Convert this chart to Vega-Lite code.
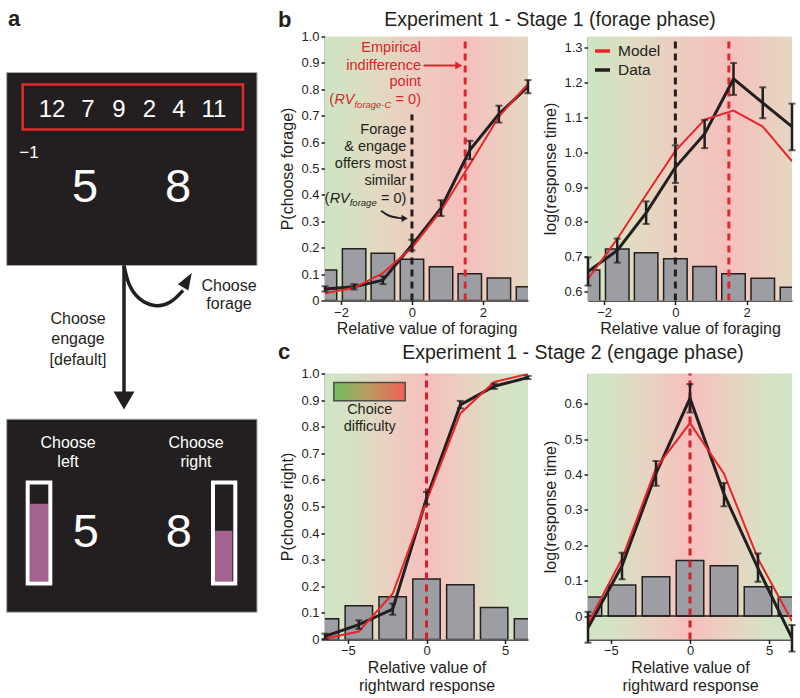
{
  "$schema": "https://vega.github.io/schema/vega-lite/v6.json",
  "padding": {"left": 0, "top": 7.5, "right": 0, "bottom": 0},
  "background": "white",
  "config": {
    "font": "Liberation Sans",
    "view": {"stroke": null},
    "axis": {"labelFont": "Liberation Sans", "labelFontSize": 13, "labelColor": "#231f20", "titleFont": "Liberation Sans", "titleFontSize": 16, "titleFontWeight": "normal", "titleColor": "#231f20", "domainColor": "#231f20", "domainWidth": 1.5, "tickColor": "#231f20", "tickWidth": 1.5, "tickSize": 4, "grid": false, "labelPadding": 2, "titleLineHeight": 18, "zindex": 1},
    "axisY": {"titlePadding": 5},
    "axisX": {"titlePadding": 1},
    "title": {"font": "Liberation Sans", "fontWeight": "normal", "color": "#231f20", "frame": "group"},
    "text": {"font": "Liberation Sans"}
  },
  "resolve": {"scale": {"color": "independent"}, "legend": {"color": "independent"}},
  "columns": 3,
  "spacing": {"row": 73, "column": 60},
  "bounds": "flush",
  "align": "each",
  "datasets": {
    "bLD": [{"x": -2.45, "y": 0.044}, {"x": -1.63, "y": 0.052}, {"x": -0.82, "y": 0.077}, {"x": 0, "y": 0.21}, {"x": 0.82, "y": 0.35}, {"x": 1.63, "y": 0.57}, {"x": 2.45, "y": 0.706}, {"x": 3.27, "y": 0.81}],
    "bLE": [{"x": -2.45, "y": 0.034, "y2": 0.054}, {"x": -1.63, "y": 0.042, "y2": 0.062}, {"x": -0.82, "y": 0.062, "y2": 0.092}, {"x": 0, "y": 0.19, "y2": 0.23}, {"x": 0.82, "y": 0.32, "y2": 0.38}, {"x": 1.63, "y": 0.535, "y2": 0.605}, {"x": 2.45, "y": 0.674, "y2": 0.738}, {"x": 3.27, "y": 0.785, "y2": 0.835}],
    "bLM": [{"x": -2.45, "y": 0.027}, {"x": -1.63, "y": 0.048}, {"x": -0.82, "y": 0.104}, {"x": 0, "y": 0.2}, {"x": 0.82, "y": 0.34}, {"x": 1.63, "y": 0.515}, {"x": 2.45, "y": 0.697}, {"x": 3.27, "y": 0.82}],
    "bLbars": [
      {"x": -2.78, "x2": -2.12, "y": 0.116}, {"x": -1.96, "x2": -1.3, "y": 0.196}, {"x": -1.15, "x2": -0.49, "y": 0.179}, {"x": -0.33, "x2": 0.33, "y": 0.156},
      {"x": 0.49, "x2": 1.15, "y": 0.128}, {"x": 1.3, "x2": 1.96, "y": 0.101}, {"x": 2.12, "x2": 2.78, "y": 0.085}, {"x": 2.94, "x2": 3.6, "y": 0.052}
    ],
    "bRD": [{"x": -2.45, "y": 0.657}, {"x": -1.63, "y": 0.718}, {"x": -0.82, "y": 0.826}, {"x": 0, "y": 0.957}, {"x": 0.82, "y": 1.053}, {"x": 1.63, "y": 1.211}, {"x": 2.45, "y": 1.142}, {"x": 3.27, "y": 1.074}],
    "bRE": [{"x": -2.45, "y": 0.617, "y2": 0.698}, {"x": -1.63, "y": 0.683, "y2": 0.752}, {"x": -0.82, "y": 0.794, "y2": 0.859}, {"x": 0, "y": 0.912, "y2": 1.02}, {"x": 0.82, "y": 1.012, "y2": 1.093}, {"x": 1.63, "y": 1.165, "y2": 1.257}, {"x": 2.45, "y": 1.098, "y2": 1.187}, {"x": 3.27, "y": 1.006, "y2": 1.14}],
    "bRM": [{"x": -2.45, "y": 0.636}, {"x": -1.63, "y": 0.751}, {"x": -0.82, "y": 0.878}, {"x": 0, "y": 1.004}, {"x": 0.82, "y": 1.094}, {"x": 1.63, "y": 1.12}, {"x": 2.45, "y": 1.074}, {"x": 3.27, "y": 0.974}],
    "bRbars": [
      {"x": -2.78, "x2": -2.12, "y": 0.662}, {"x": -1.96, "x2": -1.3, "y": 0.722}, {"x": -1.15, "x2": -0.49, "y": 0.711}, {"x": -0.33, "x2": 0.33, "y": 0.694},
      {"x": 0.49, "x2": 1.15, "y": 0.672}, {"x": 1.3, "x2": 1.96, "y": 0.651}, {"x": 2.12, "x2": 2.78, "y": 0.638}, {"x": 2.94, "x2": 3.6, "y": 0.612}
    ],
    "cLD": [{"x": -6.45, "y": 0.012}, {"x": -4.3, "y": 0.056}, {"x": -2.15, "y": 0.114}, {"x": 0, "y": 0.53}, {"x": 2.15, "y": 0.882}, {"x": 4.3, "y": 0.952}, {"x": 6.45, "y": 0.985}],
    "cLE": [{"x": -6.45, "y": 0.002, "y2": 0.022}, {"x": -4.3, "y": 0.04, "y2": 0.072}, {"x": -2.15, "y": 0.093, "y2": 0.135}, {"x": 0, "y": 0.508, "y2": 0.555}, {"x": 2.15, "y": 0.869, "y2": 0.897}, {"x": 4.3, "y": 0.942, "y2": 0.962}, {"x": 6.45, "y": 0.979, "y2": 0.991}],
    "cLM": [{"x": -6.45, "y": 0.004}, {"x": -4.3, "y": 0.03}, {"x": -2.15, "y": 0.172}, {"x": 0, "y": 0.52}, {"x": 2.15, "y": 0.85}, {"x": 4.3, "y": 0.968}, {"x": 6.45, "y": 0.998}],
    "cLbars": [
      {"x": -7.32, "x2": -5.58, "y": 0.078}, {"x": -5.17, "x2": -3.43, "y": 0.127}, {"x": -3.02, "x2": -1.28, "y": 0.161}, {"x": -0.87, "x2": 0.87, "y": 0.227},
      {"x": 1.28, "x2": 3.02, "y": 0.206}, {"x": 3.43, "x2": 5.17, "y": 0.12}, {"x": 5.58, "x2": 7.32, "y": 0.078}
    ],
    "cRD": [{"x": -6.45, "y": -0.033}, {"x": -4.3, "y": 0.142}, {"x": -2.15, "y": 0.403}, {"x": 0, "y": 0.615}, {"x": 2.15, "y": 0.345}, {"x": 4.3, "y": 0.135}, {"x": 6.45, "y": -0.062}],
    "cRE": [{"x": -6.45, "y": -0.075, "y2": 0.012}, {"x": -4.3, "y": 0.104, "y2": 0.179}, {"x": -2.15, "y": 0.368, "y2": 0.438}, {"x": 0, "y": 0.575, "y2": 0.655}, {"x": 2.15, "y": 0.31, "y2": 0.376}, {"x": 4.3, "y": 0.097, "y2": 0.177}, {"x": 6.45, "y": -0.1, "y2": -0.025}],
    "cRM": [{"x": -6.45, "y": -0.02}, {"x": -4.3, "y": 0.162}, {"x": -2.15, "y": 0.418}, {"x": 0, "y": 0.545}, {"x": 2.15, "y": 0.402}, {"x": 4.3, "y": 0.162}, {"x": 6.45, "y": -0.014}],
    "cRbars": [
      {"x": -7.32, "x2": -5.58, "y": 0.054}, {"x": -5.17, "x2": -3.43, "y": 0.088}, {"x": -3.02, "x2": -1.28, "y": 0.111}, {"x": -0.87, "x2": 0.87, "y": 0.157},
      {"x": 1.28, "x2": 3.02, "y": 0.142}, {"x": 3.43, "x2": 5.17, "y": 0.083}, {"x": 5.58, "x2": 7.32, "y": 0.054}
    ]
  },
  "concat": [
    {
      "width": 265, "height": 264,
      "title": {"text": "a", "anchor": "start", "fontSize": 22, "fontWeight": "bold", "dx": 8, "dy": -1.5},
      "encoding": {
        "x": {"field": "x", "type": "quantitative", "scale": {"domain": [0, 265], "nice": false, "zero": false}, "axis": null},
        "y": {"field": "y", "type": "quantitative", "scale": {"domain": [35, 299], "nice": false, "zero": false, "reverse": true}, "axis": null}
      },
      "layer": [
        {"data": {"values": [{"x": 6.7, "x2": 257, "y": 71, "y2": 264}]}, "mark": {"type": "rect", "fill": "#231f20", "stroke": "#a9a9a9", "strokeWidth": 1}, "encoding": {"x2": {"field": "x2"}, "y2": {"field": "y2"}}},
        {"data": {"values": [{"x": 22.7, "x2": 243, "y": 83, "y2": 128}]}, "mark": {"type": "rect", "filled": false, "color": "#e8282b", "strokeWidth": 2.5}, "encoding": {"x2": {"field": "x2"}, "y2": {"field": "y2"}}},
        {"data": {"values": [{"x": 52, "y": 108, "t": "12"}, {"x": 88, "y": 108, "t": "7"}, {"x": 119, "y": 108, "t": "9"}, {"x": 149.5, "y": 108, "t": "2"}, {"x": 179, "y": 108, "t": "4"}, {"x": 214, "y": 108, "t": "11"}]}, "mark": {"type": "text", "color": "white", "fontSize": 24, "baseline": "middle", "align": "center"}, "encoding": {"text": {"field": "t"}}},
        {"data": {"values": [{"x": 29, "y": 151, "t": "−1"}]}, "mark": {"type": "text", "color": "white", "fontSize": 17, "baseline": "middle", "align": "center"}, "encoding": {"text": {"field": "t"}}},
        {"data": {"values": [{"x": 85, "y": 186, "t": "5"}, {"x": 178, "y": 186, "t": "8"}]}, "mark": {"type": "text", "color": "white", "fontSize": 47, "baseline": "middle", "align": "center"}, "encoding": {"text": {"field": "t"}}},
        {"data": {"values": [{"x": 124, "y": 264, "y2": 394}]}, "mark": {"type": "rule", "color": "#231f20", "strokeWidth": 3.5}, "encoding": {"y2": {"field": "y2"}}},
        {"data": {"values": [{"x": 124, "y": 264}, {"x": 128, "y": 283}, {"x": 138, "y": 298}, {"x": 155, "y": 306}, {"x": 171, "y": 302}, {"x": 183, "y": 289}]}, "mark": {"type": "line", "color": "#231f20", "strokeWidth": 3.5, "interpolate": "basis"}, "encoding": {}},
        {"data": {"values": [{"x": 186, "y": 281}]}, "mark": {"type": "point", "shape": "M0.515,-0.857L0.213,0.712L-0.729,0.146Z", "filled": true, "size": 500, "color": "#231f20", "opacity": 1}, "encoding": {}},
        {"data": {"values": [{"x": 229, "y": 284, "t": "Choose"}, {"x": 229, "y": 302, "t": "forage"}, {"x": 78, "y": 317, "t": "Choose"}, {"x": 78, "y": 337, "t": "engage"}, {"x": 78, "y": 358, "t": "[default]"}]}, "mark": {"type": "text", "color": "#231f20", "fontSize": 16, "baseline": "middle", "align": "center"}, "encoding": {"text": {"field": "t"}}}
      ]
    },
    {
      "width": 203, "height": 264,
      "title": {"text": "b", "anchor": "start", "fontSize": 22, "fontWeight": "bold", "dx": -47, "dy": 5},
      "encoding": {
        "x": {"field": "x", "type": "quantitative", "scale": {"domain": [-2.45, 3.27], "nice": false, "zero": false}, "axis": {"title": "Relative value of foraging", "values": [-2, 0, 2]}},
        "y": {"field": "y", "type": "quantitative", "scale": {"domain": [0, 1], "nice": false, "zero": false}, "axis": {"title": "P(choose forage)", "values": [0, 0.1, 0.2, 0.3, 0.4, 0.5, 0.6, 0.7, 0.8, 0.9, 1], "labelExpr": "datum.value == 0 ? '0' : format(datum.value, '.1f')"}}
      },
      "layer": [
        {"data": {"values": [{"x": -2.45, "x2": 3.27, "y": 0, "y2": 1}]}, "mark": {"type": "rect", "fill": {"gradient": "linear", "x1": 0, "y1": 0, "x2": 1, "y2": 0, "stops": [{"offset": 0, "color": "#cde5c3"}, {"offset": 0.22, "color": "#dfdcc1"}, {"offset": 0.42, "color": "#ebcebf"}, {"offset": 0.69, "color": "#f5c0bc"}, {"offset": 1, "color": "#e5d7c1"}]}}, "encoding": {"x2": {"field": "x2"}, "y2": {"field": "y2"}}},
        {"data": {"name": "bLbars"}, "mark": {"type": "rect", "clip": true, "fill": "#9c9ea3", "stroke": "#231f20", "strokeWidth": 1.5}, "encoding": {"x2": {"field": "x2"}, "y2": {"datum": 0}}},
        {"data": {"values": [{"x": 0, "y": 0, "y2": 0.705}]}, "mark": {"type": "rule", "color": "#231f20", "strokeWidth": 3, "strokeDash": [7, 5]}, "encoding": {"y2": {"field": "y2"}}},
        {"data": {"values": [{"x": 1.5, "y": 0, "y2": 1}]}, "mark": {"type": "rule", "color": "#e2262f", "strokeWidth": 3, "strokeDash": [7, 5]}, "encoding": {"y2": {"field": "y2"}}},
        {"data": {"name": "bLD"}, "mark": {"type": "line", "color": "#231f20", "strokeWidth": 3, "clip": true}, "encoding": {}},
        {"data": {"name": "bLM"}, "mark": {"type": "line", "color": "#e8252b", "strokeWidth": 2, "clip": true}, "encoding": {}},
        {"data": {"name": "bLE"}, "mark": {"type": "errorbar", "ticks": {"size": 7, "thickness": 2, "color": "#231f20"}, "rule": {"strokeWidth": 2.5, "color": "#231f20"}}, "encoding": {"y2": {"field": "y2"}}},
        {"data": {"values": [{"x": 0.255, "y": 0.956, "t": "Empirical"}, {"x": 0.255, "y": 0.89, "t": "indifference"}, {"x": 0.255, "y": 0.826, "t": "point"}, {"x": -2.193, "y": 0.758, "t": "("}, {"x": 0.255, "y": 0.758, "t": "= 0)"}]}, "mark": {"type": "text", "align": "right", "baseline": "middle", "fontSize": 14.5, "color": "#d9262e"}, "encoding": {"text": {"field": "t"}}},
        {"data": {"values": [{"x": -1.623, "y": 0.758, "t": "RV"}]}, "mark": {"type": "text", "align": "right", "baseline": "middle", "fontSize": 14.5, "fontStyle": "italic", "color": "#d9262e"}, "encoding": {"text": {"field": "t"}}},
        {"data": {"values": [{"x": -0.578, "y": 0.742, "t": "forage-C"}]}, "mark": {"type": "text", "align": "right", "baseline": "middle", "fontSize": 9.5, "fontStyle": "italic", "color": "#d9262e"}, "encoding": {"text": {"field": "t"}}},
        {"data": {"values": [{"x": 0.33, "y": 0.89}, {"x": 1.25, "y": 0.89}]}, "mark": {"type": "line", "color": "#d9262e", "strokeWidth": 2}, "encoding": {}},
        {"data": {"values": [{"x": 1.317, "y": 0.89}]}, "mark": {"type": "point", "shape": "triangle-right", "filled": true, "size": 64, "color": "#d9262e", "opacity": 1}, "encoding": {}},
        {"data": {"values": [{"x": -0.16, "y": 0.647, "t": "Forage"}, {"x": -0.16, "y": 0.581, "t": "& engage"}, {"x": -0.16, "y": 0.516, "t": "offers most"}, {"x": -0.16, "y": 0.451, "t": "similar"}, {"x": -2.326, "y": 0.385, "t": "("}, {"x": -0.16, "y": 0.385, "t": "= 0)"}]}, "mark": {"type": "text", "align": "right", "baseline": "middle", "fontSize": 14.5, "color": "#231f20"}, "encoding": {"text": {"field": "t"}}},
        {"data": {"values": [{"x": -1.756, "y": 0.385, "t": "RV"}]}, "mark": {"type": "text", "align": "right", "baseline": "middle", "fontSize": 14.5, "fontStyle": "italic", "color": "#231f20"}, "encoding": {"text": {"field": "t"}}},
        {"data": {"values": [{"x": -0.994, "y": 0.37, "t": "forage"}]}, "mark": {"type": "text", "align": "right", "baseline": "middle", "fontSize": 9.5, "fontStyle": "italic", "color": "#231f20"}, "encoding": {"text": {"field": "t"}}},
        {"data": {"values": [{"x": -0.87, "y": 0.34}, {"x": -0.66, "y": 0.322}, {"x": -0.4, "y": 0.313}, {"x": -0.22, "y": 0.311}]}, "mark": {"type": "line", "color": "#231f20", "strokeWidth": 2, "interpolate": "monotone"}, "encoding": {}},
        {"data": {"values": [{"x": -0.206, "y": 0.311}]}, "mark": {"type": "point", "shape": "triangle-right", "filled": true, "size": 50, "color": "#231f20", "opacity": 1}, "encoding": {}}
      ]
    },
    {
      "width": 204, "height": 264,
      "title": {"text": "Experiment 1 - Stage 1 (forage phase)", "anchor": "middle", "fontSize": 19.5, "dx": -140, "dy": -1},
      "encoding": {
        "x": {"field": "x", "type": "quantitative", "scale": {"domain": [-2.45, 3.27], "nice": false, "zero": false}, "axis": {"title": "Relative value of foraging", "values": [-2, 0, 2]}},
        "y": {"field": "y", "type": "quantitative", "scale": {"domain": [0.574, 1.333], "nice": false, "zero": false}, "axis": {"title": "log(response time)", "values": [0.6, 0.7, 0.8, 0.9, 1.0, 1.1, 1.2, 1.3], "labelExpr": "format(datum.value, '.1f')"}}
      },
      "layer": [
        {"data": {"values": [{"x": -2.45, "x2": 3.27, "y": 0.574, "y2": 1.333}]}, "mark": {"type": "rect", "fill": {"gradient": "linear", "x1": 0, "y1": 0, "x2": 1, "y2": 0, "stops": [{"offset": 0, "color": "#cde5c3"}, {"offset": 0.22, "color": "#dfdcc1"}, {"offset": 0.42, "color": "#ebcebf"}, {"offset": 0.69, "color": "#f5c0bc"}, {"offset": 1, "color": "#e5d7c1"}]}}, "encoding": {"x2": {"field": "x2"}, "y2": {"field": "y2"}}},
        {"data": {"name": "bRbars"}, "mark": {"type": "rect", "clip": true, "fill": "#9c9ea3", "stroke": "#231f20", "strokeWidth": 1.5}, "encoding": {"x2": {"field": "x2"}, "y2": {"datum": 0.5}}},
        {"data": {"values": [{"x": 0, "y": 0.574, "y2": 1.333}]}, "mark": {"type": "rule", "color": "#231f20", "strokeWidth": 3, "strokeDash": [7, 5]}, "encoding": {"y2": {"field": "y2"}}},
        {"data": {"values": [{"x": 1.5, "y": 0.574, "y2": 1.333}]}, "mark": {"type": "rule", "color": "#e2262f", "strokeWidth": 3, "strokeDash": [7, 5]}, "encoding": {"y2": {"field": "y2"}}},
        {"data": {"name": "bRD"}, "mark": {"type": "line", "strokeWidth": 3, "clip": true}, "encoding": {"color": {"datum": "Data", "scale": {"domain": ["Model", "Data"], "range": ["#e8252b", "#231f20"]}, "legend": {"orient": "top-left", "title": null, "symbolType": "stroke", "symbolStrokeWidth": 3.5, "symbolSize": 225, "labelFontSize": 15.5, "labelColor": "#231f20", "labelFont": "Liberation Sans", "offset": 3, "rowPadding": 1, "labelOffset": 6, "padding": 2}}}},
        {"data": {"name": "bRM"}, "mark": {"type": "line", "strokeWidth": 2, "clip": true}, "encoding": {"color": {"datum": "Model"}}},
        {"data": {"name": "bRE"}, "mark": {"type": "errorbar", "ticks": {"size": 7, "thickness": 2, "color": "#231f20"}, "rule": {"strokeWidth": 2.5, "color": "#231f20"}}, "encoding": {"y2": {"field": "y2"}}}
      ]
    },
    {
      "width": 265, "height": 266,
      "encoding": {
        "x": {"field": "x", "type": "quantitative", "scale": {"domain": [0, 265], "nice": false, "zero": false}, "axis": null},
        "y": {"field": "y", "type": "quantitative", "scale": {"domain": [372, 638], "nice": false, "zero": false, "reverse": true}, "axis": null}
      },
      "layer": [
        {"data": {"values": [{"x": 6.7, "x2": 257, "y": 417.7, "y2": 610.7}]}, "mark": {"type": "rect", "fill": "#231f20", "stroke": "#a9a9a9", "strokeWidth": 1}, "encoding": {"x2": {"field": "x2"}, "y2": {"field": "y2"}}},
        {"data": {"values": [{"x": 68, "y": 441, "t": "Choose"}, {"x": 68, "y": 460, "t": "left"}, {"x": 196, "y": 441, "t": "Choose"}, {"x": 196, "y": 460, "t": "right"}]}, "mark": {"type": "text", "color": "white", "fontSize": 16, "baseline": "middle", "align": "center"}, "encoding": {"text": {"field": "t"}}},
        {"data": {"values": [{"x": 30, "x2": 48.3, "y": 502.3, "y2": 580}, {"x": 215, "x2": 232.3, "y": 529.3, "y2": 580}]}, "mark": {"type": "rect", "fill": "#a3628f"}, "encoding": {"x2": {"field": "x2"}, "y2": {"field": "y2"}}},
        {"data": {"values": [{"x": 27.7, "x2": 50.3, "y": 481, "y2": 582}, {"x": 213, "x2": 235.3, "y": 481, "y2": 582}]}, "mark": {"type": "rect", "filled": false, "color": "white", "strokeWidth": 4}, "encoding": {"x2": {"field": "x2"}, "y2": {"field": "y2"}}},
        {"data": {"values": [{"x": 85.8, "y": 531.7, "t": "5"}, {"x": 178.7, "y": 531.7, "t": "8"}]}, "mark": {"type": "text", "color": "white", "fontSize": 47, "baseline": "middle", "align": "center"}, "encoding": {"text": {"field": "t"}}},
        {"data": {"values": [{"x": 124, "y": 399}]}, "mark": {"type": "point", "shape": "triangle-down", "filled": true, "size": 441, "color": "#231f20", "opacity": 1}, "encoding": {}}
      ]
    },
    {
      "width": 203, "height": 266,
      "title": {"text": "c", "anchor": "start", "fontSize": 22, "fontWeight": "bold", "dx": -47, "dy": 0},
      "encoding": {
        "x": {"field": "x", "type": "quantitative", "scale": {"domain": [-6.45, 6.45], "nice": false, "zero": false}, "axis": {"title": ["Relative value of", "rightward response"], "values": [-5, 0, 5], "labelPadding": 1, "titlePadding": 2}},
        "y": {"field": "y", "type": "quantitative", "scale": {"domain": [0, 1], "nice": false, "zero": false}, "axis": {"title": "P(choose right)", "values": [0, 0.1, 0.2, 0.3, 0.4, 0.5, 0.6, 0.7, 0.8, 0.9, 1], "labelExpr": "datum.value == 0 ? '0' : format(datum.value, '.1f')"}}
      },
      "layer": [
        {"data": {"values": [{"x": -6.45, "x2": 6.45, "y": 0, "y2": 1}]}, "mark": {"type": "rect", "fill": {"gradient": "linear", "x1": 0, "y1": 0, "x2": 1, "y2": 0, "stops": [{"offset": 0, "color": "#cfe6c5"}, {"offset": 0.15, "color": "#d8e0c4"}, {"offset": 0.32, "color": "#ebd0c0"}, {"offset": 0.5, "color": "#f6bfbc"}, {"offset": 0.68, "color": "#ebd0c0"}, {"offset": 0.85, "color": "#d8e0c4"}, {"offset": 1, "color": "#cfe6c5"}]}}, "encoding": {"x2": {"field": "x2"}, "y2": {"field": "y2"}}},
        {"data": {"name": "cLbars"}, "mark": {"type": "rect", "clip": true, "fill": "#9c9ea3", "stroke": "#231f20", "strokeWidth": 1.5}, "encoding": {"x2": {"field": "x2"}, "y2": {"datum": 0}}},
        {"data": {"values": [{"x": 0, "y": 0, "y2": 1}]}, "mark": {"type": "rule", "color": "#d21f2b", "strokeWidth": 3, "strokeDash": [7, 5]}, "encoding": {"y2": {"field": "y2"}}},
        {"data": {"name": "cLD"}, "mark": {"type": "line", "color": "#231f20", "strokeWidth": 3, "clip": true}, "encoding": {}},
        {"data": {"name": "cLM"}, "mark": {"type": "line", "color": "#e8252b", "strokeWidth": 2, "clip": true}, "encoding": {}},
        {"data": {"name": "cLE"}, "mark": {"type": "errorbar", "ticks": {"size": 7, "thickness": 2, "color": "#231f20"}, "rule": {"strokeWidth": 2.5, "color": "#231f20"}}, "encoding": {"y2": {"field": "y2"}}},
        {"data": {"values": [{"x": -5.89, "x2": -1.35, "y": 0.898, "y2": 0.966}]}, "mark": {"type": "rect", "stroke": "#4d4d4d", "strokeWidth": 1.5, "fill": {"gradient": "linear", "x1": 0, "y1": 0, "x2": 1, "y2": 0, "stops": [{"offset": 0, "color": "#6cbe63"}, {"offset": 0.45, "color": "#b89c60"}, {"offset": 1, "color": "#ef6356"}]}}, "encoding": {"x2": {"field": "x2"}, "y2": {"field": "y2"}}},
        {"data": {"values": [{"x": -3.61, "y": 0.863, "t": "Choice"}, {"x": -3.61, "y": 0.8, "t": "difficulty"}]}, "mark": {"type": "text", "align": "center", "baseline": "middle", "fontSize": 14.5, "color": "#231f20"}, "encoding": {"text": {"field": "t"}}}
      ]
    },
    {
      "width": 204, "height": 266,
      "title": {"text": "Experiment 1 - Stage 2 (engage phase)", "anchor": "middle", "fontSize": 19.5, "dx": -117, "dy": -5},
      "encoding": {
        "x": {"field": "x", "type": "quantitative", "scale": {"domain": [-6.45, 6.45], "nice": false, "zero": false}, "axis": {"title": ["Relative value of", "rightward response"], "values": [-5, 0, 5], "labelPadding": 1, "titlePadding": 2}},
        "y": {"field": "y", "type": "quantitative", "scale": {"domain": [-0.066, 0.685], "nice": false, "zero": false}, "axis": {"title": "log(response time)", "values": [0, 0.1, 0.2, 0.3, 0.4, 0.5, 0.6], "labelExpr": "datum.value == 0 ? '0' : format(datum.value, '.1f')"}}
      },
      "layer": [
        {"data": {"values": [{"x": -6.45, "x2": 6.45, "y": -0.066, "y2": 0.685}]}, "mark": {"type": "rect", "fill": {"gradient": "linear", "x1": 0, "y1": 0, "x2": 1, "y2": 0, "stops": [{"offset": 0, "color": "#cfe6c5"}, {"offset": 0.15, "color": "#d8e0c4"}, {"offset": 0.32, "color": "#ebd0c0"}, {"offset": 0.5, "color": "#f6bfbc"}, {"offset": 0.68, "color": "#ebd0c0"}, {"offset": 0.85, "color": "#d8e0c4"}, {"offset": 1, "color": "#cfe6c5"}]}}, "encoding": {"x2": {"field": "x2"}, "y2": {"field": "y2"}}},
        {"data": {"name": "cRbars"}, "mark": {"type": "rect", "clip": true, "fill": "#9c9ea3", "stroke": "#231f20", "strokeWidth": 1.5}, "encoding": {"x2": {"field": "x2"}, "y2": {"datum": 0}}},
        {"data": {"values": [{"x": -6.45, "x2": 6.45, "y": 0}]}, "mark": {"type": "rule", "color": "#231f20", "strokeWidth": 1.5}, "encoding": {"x2": {"field": "x2"}}},
        {"data": {"values": [{"x": 0, "y": -0.066, "y2": 0.685}]}, "mark": {"type": "rule", "color": "#d21f2b", "strokeWidth": 3, "strokeDash": [7, 5]}, "encoding": {"y2": {"field": "y2"}}},
        {"data": {"name": "cRD"}, "mark": {"type": "line", "color": "#231f20", "strokeWidth": 3, "clip": true}, "encoding": {}},
        {"data": {"name": "cRM"}, "mark": {"type": "line", "color": "#e8252b", "strokeWidth": 2, "clip": true}, "encoding": {}},
        {"data": {"name": "cRE"}, "mark": {"type": "errorbar", "ticks": {"size": 7, "thickness": 2, "color": "#231f20"}, "rule": {"strokeWidth": 2.5, "color": "#231f20"}}, "encoding": {"y2": {"field": "y2"}}}
      ]
    }
  ]
}
